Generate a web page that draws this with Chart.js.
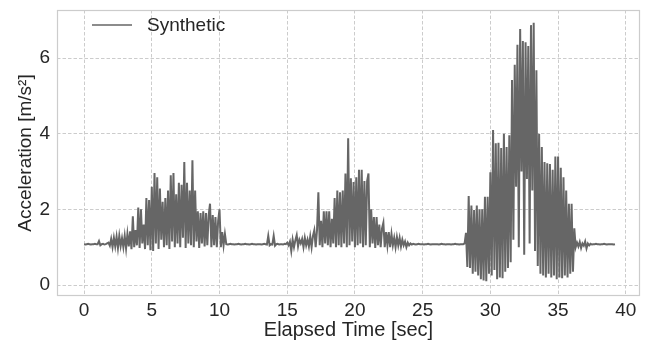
<!DOCTYPE html>
<html>
<head>
<meta charset="utf-8">
<script src="https://cdn.jsdelivr.net/npm/chart.js@4.4.1/dist/chart.umd.min.js"></script>
<style>
  html, body { margin: 0; padding: 0; background: #fff; }
  #wrap { width: 650px; height: 341px; }
</style>
</head>
<body>
<div id="wrap"><canvas id="accChart"></canvas></div>
<script>
// sampled every 0.1 s, starting at t = 0
var sampleStep = 0.1;
var accel = [
  1.08,1.07,1.08,1.09,1.08,1.07,1.08,1.08,1.09,1.08, // 0 s
  1.08,1.16,1.05,1.08,1.09,1.07,1.08,1.10,1.12,1.04,
  1.22,1.00,1.25,1.02,1.28,0.98,1.30,1.03,1.24,1.00,
  1.30,0.97,1.35,1.02,1.42,0.95,1.82,1.00,1.45,1.05,
  2.05,0.98,2.00,1.10,1.60,0.95,2.30,1.05,2.25,0.92,
  2.60,0.90,2.96,1.10,2.85,0.95,2.55,1.20,2.20,1.00, // 5 s
  2.30,1.05,2.50,0.95,2.90,1.15,2.96,1.00,2.40,1.10,
  2.70,1.00,2.65,1.25,3.25,0.98,2.70,1.10,2.50,1.05,
  3.30,1.00,2.50,1.15,1.95,0.98,1.90,1.10,1.95,1.02,
  1.90,1.05,1.85,2.15,1.00,1.85,1.05,1.80,1.00,1.70,
  2.00,1.00,1.40,1.05,1.35,1.08,1.07,1.08,1.09,1.08, // 10 s
  1.08,1.07,1.08,1.08,1.09,1.08,1.07,1.08,1.08,1.09,
  1.08,1.08,1.07,1.08,1.09,1.08,1.08,1.07,1.08,1.08,
  1.08,1.07,1.08,1.09,1.08,1.07,1.30,1.05,1.08,1.07,
  1.30,1.04,1.08,1.09,1.07,1.08,1.08,1.07,1.09,1.08,
  1.12,1.05,1.15,0.90,1.20,1.00,1.18,1.32,1.02,1.20, // 15 s
  1.10,1.22,1.00,1.25,1.05,1.20,1.02,1.28,1.00,1.30,
  1.45,1.00,1.45,2.45,1.05,1.70,1.00,1.95,1.10,1.95,
  1.05,1.95,1.00,1.75,1.10,2.30,1.00,2.50,1.05,2.45,
  1.00,2.50,1.10,2.95,1.00,3.88,1.05,2.82,1.15,2.72,
  1.00,2.85,1.05,3.05,1.10,3.05,1.00,2.75,1.05,2.75, // 20 s
  2.95,1.00,2.00,1.10,1.80,0.98,1.80,1.05,1.60,1.00,
  1.50,1.65,1.00,1.40,1.05,1.40,1.00,1.35,1.05,1.25,
  1.00,1.27,1.05,1.25,1.02,1.20,1.05,1.15,1.00,1.12,
  1.05,1.10,1.07,1.09,1.08,1.07,1.08,1.09,1.08,1.08,
  1.08,1.07,1.08,1.08,1.09,1.08,1.07,1.08,1.08,1.08, // 25 s
  1.08,1.08,1.07,1.08,1.09,1.08,1.08,1.07,1.08,1.08,
  1.08,1.07,1.08,1.08,1.09,1.08,1.08,1.07,1.08,1.08,
  1.08,1.10,1.38,0.48,2.35,0.45,2.10,0.30,1.98,0.35,
  2.10,0.25,2.00,0.15,2.00,0.12,2.33,0.10,2.33,0.30,
  2.98,0.25,4.10,0.40,3.75,0.15,3.76,0.20,3.62,0.18, // 30 s
  4.00,0.35,3.65,0.45,3.96,0.60,5.42,1.20,5.82,2.60,
  6.35,1.00,6.77,3.00,6.45,0.80,6.42,2.80,6.32,1.10,
  6.87,2.50,6.93,0.90,5.68,0.50,4.00,0.30,3.65,0.25,
  3.25,0.20,3.22,0.30,3.20,0.20,3.05,0.25,3.40,0.15,
  3.40,0.20,3.10,0.18,2.85,0.25,2.50,0.20,2.15,0.30, // 35 s
  2.15,0.35,1.50,1.00,1.12,1.02,1.14,0.98,1.10,1.04,
  1.15,0.97,1.10,1.05,1.09,1.07,1.08,1.08,1.09,1.08,
  1.08,1.07,1.08,1.08,1.09,1.08,1.07,1.08,1.08,1.08,
  1.08,1.07,1.08
];

var xTicks = [0, 5, 10, 15, 20, 25, 30, 35, 40];
var yTicks = [0, 2, 4, 6];

var points = accel.map(function (v, i) {
  return { x: +(i * sampleStep).toFixed(1), y: v };
});

var fontFamily = "'Liberation Sans', Arial, sans-serif";
var textColor = '#262626';
var gridColor = '#cccccc';

// light frame around the plot area
var frame = {
  id: 'frame',
  afterDatasetsDraw: function (chart) {
    var a = chart.chartArea, c = chart.ctx;
    c.save();
    c.strokeStyle = gridColor;
    c.lineWidth = 1.2;
    c.strokeRect(a.left + 0.5, a.top + 0.5, a.right - a.left - 1, a.bottom - a.top - 1);
    c.restore();
  }
};

// legend drawn inside the upper-left corner
var insideLegend = {
  id: 'insideLegend',
  afterDraw: function (chart) {
    var c = chart.ctx, ds = chart.data.datasets[0];
    c.save();
    c.strokeStyle = ds.borderColor;
    c.lineWidth = 1.5;
    c.beginPath();
    c.moveTo(92, 25);
    c.lineTo(132, 25);
    c.stroke();
    c.fillStyle = textColor;
    c.font = '19px ' + fontFamily;
    c.textBaseline = 'middle';
    c.fillText(ds.label, 147, 26);
    c.restore();
  }
};

var ctx = document.getElementById('accChart').getContext('2d');

new Chart(ctx, {
  type: 'line',
  data: {
    datasets: [{
      label: 'Synthetic',
      data: points,
      borderColor: '#666666',
      borderWidth: 2,
      pointRadius: 0,
      tension: 0,
      fill: false
    }]
  },
  options: {
    responsive: true,
    maintainAspectRatio: false,
    animation: false,
    layout: { padding: { top: 10, right: 10, left: 0, bottom: 0 } },
    plugins: {
      legend: { display: false },
      tooltip: { enabled: false }
    },
    scales: {
      x: {
        type: 'linear',
        min: -2.0,
        max: 41.05,
        afterBuildTicks: function (scale) {
          scale.ticks = xTicks.map(function (v) { return { value: v }; });
        },
        afterFit: function (scale) {
          scale.height = 45;
          scale.paddingLeft = 0;
          scale.paddingRight = 0;
        },
        grid: { color: gridColor, lineWidth: 1, drawTicks: false },
        border: { display: false, dash: [3.5, 2] },
        ticks: {
          padding: 3,
          color: textColor,
          maxRotation: 0,
          font: { size: 19, family: fontFamily }
        },
        title: {
          display: true,
          text: 'Elapsed Time [sec]',
          color: textColor,
          padding: { top: 0, bottom: -1 },
          font: { size: 20, family: fontFamily }
        }
      },
      y: {
        min: -0.29,
        max: 7.27,
        afterBuildTicks: function (scale) {
          scale.ticks = yTicks.map(function (v) { return { value: v }; });
        },
        afterFit: function (scale) {
          scale.width = 57;
          scale.paddingTop = 0;
          scale.paddingBottom = 0;
        },
        grid: { color: gridColor, lineWidth: 1, drawTicks: false },
        border: { display: false, dash: [3.5, 2] },
        ticks: {
          padding: 7,
          color: textColor,
          font: { size: 19, family: fontFamily }
        },
        title: {
          display: true,
          text: 'Acceleration [m/s²]',
          color: textColor,
          padding: { top: 14, bottom: 0 },
          font: { size: 19, family: fontFamily }
        }
      }
    }
  },
  plugins: [frame, insideLegend]
});
</script>
</body>
</html>
